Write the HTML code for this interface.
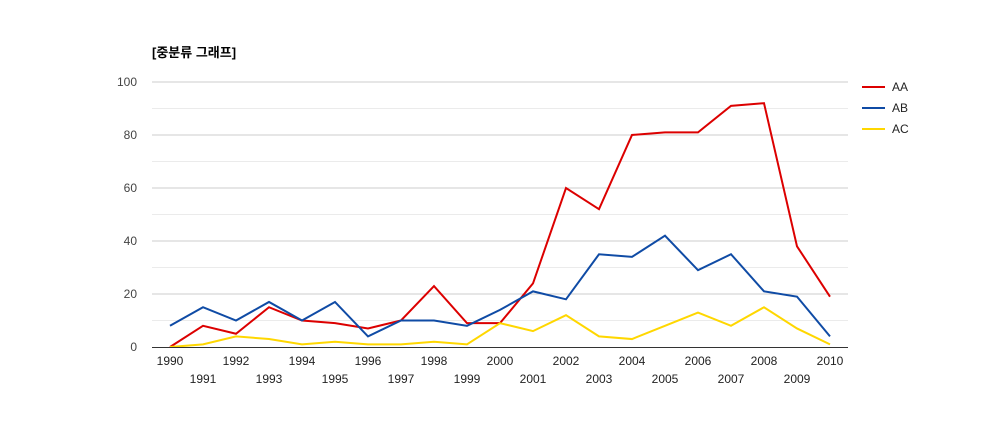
<!DOCTYPE html>
<html><head><meta charset="utf-8"><style>
html,body{margin:0;padding:0;background:#fff;}
svg{display:block;font-family:"Liberation Sans","Noto Sans CJK KR",sans-serif;}
</style></head><body>
<svg id="chart" width="1000" height="430">
<text x="152" y="57" font-size="13" font-weight="bold" fill="#000">[중분류 그래프]</text>
<g id="grid"></g><g id="series"></g><g id="axes"></g><g id="legend"></g>
</svg>
<script>
const years=[1990,1991,1992,1993,1994,1995,1996,1997,1998,1999,2000,2001,2002,2003,2004,2005,2006,2007,2008,2009,2010];
const seriesNames=["AA","AB","AC"];
const valuesAA=[0,8,5,15,10,9,7,10,23,9,9,24,60,52,80,81,81,91,92,38,19];
const valuesAB=[8,15,10,17,10,17,4,10,10,8,14,21,18,35,34,42,29,35,21,19,4];
const valuesAC=[0,1,4,3,1,2,1,1,2,1,9,6,12,4,3,8,13,8,15,7,1];
const yTicks=[0,20,40,60,80,100];
const colors=["#dc0000","#0f4ba5","#ffd700"];
const NS="http://www.w3.org/2000/svg";
const x0=170,x1=830,yBase=347,yTop=82,left=152,right=848;
const xs=i=>x0+(x1-x0)*i/(years.length-1);
const ys=v=>yBase-(yBase-yTop)*v/100;
function mk(t,a,p){const e=document.createElementNS(NS,t);for(const k in a)e.setAttribute(k,a[k]);p.appendChild(e);return e;}
const grid=document.getElementById('grid'),axes=document.getElementById('axes'),ser=document.getElementById('series'),leg=document.getElementById('legend');
for(let v=10;v<=100;v+=10){
 const l=mk('line',{x1:left,x2:right,y1:ys(v),y2:ys(v),stroke:v%20?'#ebebeb':'#cccccc','stroke-width':1},grid);
 
 
}
yTicks.forEach(v=>{
 const t=mk('text',{x:137,y:ys(v)+4,'text-anchor':'end','font-size':12,fill:'#444'},axes);
 t.textContent=v;
 
 
});
const base=mk('line',{x1:left,x2:right,y1:yBase+0.5,y2:yBase+0.5,stroke:'#333','stroke-width':1},axes);


years.forEach((y,i)=>{
 const t=mk('text',{x:xs(i),y:i%2?383:365,'text-anchor':'middle','font-size':12,fill:'#222'},axes);
 t.textContent=y;
 
 
});
[valuesAA,valuesAB,valuesAC].forEach((vals,s)=>{
 const p=mk('polyline',{points:vals.map((v,i)=>xs(i)+','+ys(v)).join(' '),fill:'none',stroke:colors[s],'stroke-width':2},ser);
 
 
 const ly=87+s*21;
 const g=mk('g',{},leg);
 
 
 mk('line',{x1:862,x2:885,y1:ly,y2:ly,stroke:colors[s],'stroke-width':2},g);
 const t=mk('text',{x:892,y:ly+4,'font-size':12,fill:'#222'},g);
 t.textContent=seriesNames[s];
});
</script>
</body></html>
